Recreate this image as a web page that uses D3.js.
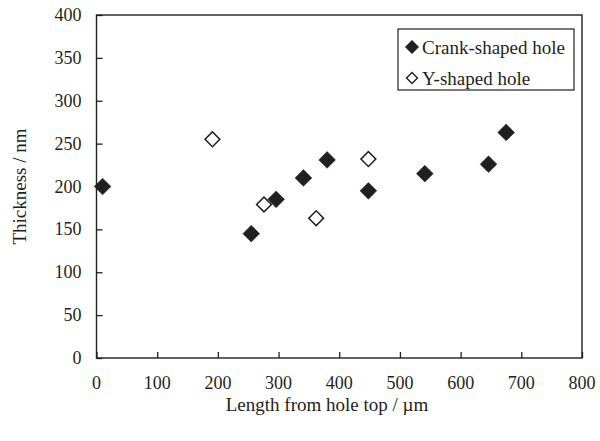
<!DOCTYPE html>
<html>
<head>
<meta charset="utf-8">
<script src="https://cdn.jsdelivr.net/npm/d3@7"></script>
<style>
  body { margin: 0; background: #fff; }
  text { font-family: "Liberation Serif", "Times New Roman", serif; fill: #231f20; }
</style>
</head>
<body>
<div id="chart"></div>
<script>
// Crank-shaped hole (filled diamonds)
const crankX = [10, 255, 296, 341, 380, 448, 541, 646, 675];
const crankY = [200, 145, 185, 210, 231, 195, 215, 226, 263];
// Y-shaped hole (open diamonds)
const yX = [191, 276, 362, 448];
const yY = [255, 179, 163, 232];

const xTicks = [0, 100, 200, 300, 400, 500, 600, 700, 800];
const yTicks = [0, 50, 100, 150, 200, 250, 300, 350, 400];
const seriesNames = ["Crank-shaped hole", "Y-shaped hole"];

const svgWidth = 600, svgHeight = 441;
const plotLeft = 96.5, plotRight = 582, plotTop = 15, plotBottom = 358;
const ink = "#231f20";

let svg = d3.select("#chart")
    .append("svg")
    .attr("width", svgWidth)
    .attr("height", svgHeight);

let x = d3.scaleLinear().domain([0, 800]).range([plotLeft, plotRight]);
let y = d3.scaleLinear().domain([0, 400]).range([plotBottom, plotTop]);

// ticks point inward, labels drawn separately
function add_axes() {
    let xAxis = d3.axisBottom(x).tickValues(xTicks).tickSizeInner(-6).tickSizeOuter(0).tickFormat("");
    let yAxis = d3.axisLeft(y).tickValues(yTicks).tickSizeInner(-6).tickSizeOuter(0).tickFormat("");
    svg.append("g").attr("transform", `translate(0,${plotBottom})`).call(xAxis);
    svg.append("g").attr("transform", `translate(${plotLeft},0)`).call(yAxis);
    svg.selectAll(".domain").remove();
    svg.selectAll(".tick line").attr("stroke", ink).attr("stroke-width", 1.3);

    // frame
    svg.append("rect")
        .attr("x", plotLeft).attr("y", plotTop)
        .attr("width", plotRight - plotLeft).attr("height", plotBottom - plotTop)
        .attr("fill", "none").attr("stroke", ink).attr("stroke-width", 1.4);

    svg.append("g").selectAll("text")
        .data(xTicks).enter().append("text")
        .attr("x", d => x(d))
        .attr("y", plotBottom + 31)
        .attr("text-anchor", "middle")
        .style("font-size", "18px")
        .text(d => d);

    svg.append("g").selectAll("text")
        .data(yTicks).enter().append("text")
        .attr("x", plotLeft - 15)
        .attr("y", d => y(d) + 6)
        .attr("text-anchor", "end")
        .style("font-size", "18px")
        .text(d => d);

    // the title sits a bit left of the plot centre in the original
    svg.append("text")
        .attr("x", 327)
        .attr("y", 411)
        .attr("text-anchor", "middle")
        .style("font-size", "19px")
        .text("Length from hole top / µm");

    svg.append("text")
        .attr("transform", `translate(26,${(plotTop + plotBottom) / 2}) rotate(-90)`)
        .attr("text-anchor", "middle")
        .style("font-size", "19px")
        .text("Thickness / nm");
}

const diamond = d3.symbol().type(d3.symbolSquare);

function add_points(xs, ys, filled, size) {
    svg.append("g")
        .selectAll("path")
        .data(xs)
        .enter()
        .append("path")
            .attr("d", diamond.size(size)())
            .attr("transform", (d, i) => `translate(${x(d)},${y(ys[i])}) rotate(45)`)
            .attr("fill", filled ? ink : "#fff")
            .attr("stroke", ink)
            .attr("stroke-width", filled ? 0.5 : 1.5);
}

function add_legend() {
    let g = svg.append("g");
    g.append("rect")
        .attr("x", 398).attr("y", 29)
        .attr("width", 176).attr("height", 61)
        .attr("fill", "#fff").attr("stroke", ink).attr("stroke-width", 1.2);
    seriesNames.forEach((name, i) => {
        let cy = 47 + i * 31;
        g.append("path")
            .attr("d", diamond.size(i == 0 ? 90 : 60)())
            .attr("transform", `translate(412,${cy}) rotate(45)`)
            .attr("fill", i == 0 ? ink : "#fff")
            .attr("stroke", ink)
            .attr("stroke-width", i == 0 ? 0.5 : 1.4);
        g.append("text")
            .attr("x", 422)
            .attr("y", cy + 6.5)
            .style("font-size", "19px")
            .text(name);
    });
}

add_axes();
add_points(yX, yY, false, 110);
add_points(crankX, crankY, true, 140);
add_legend();
</script>
</body>
</html>
